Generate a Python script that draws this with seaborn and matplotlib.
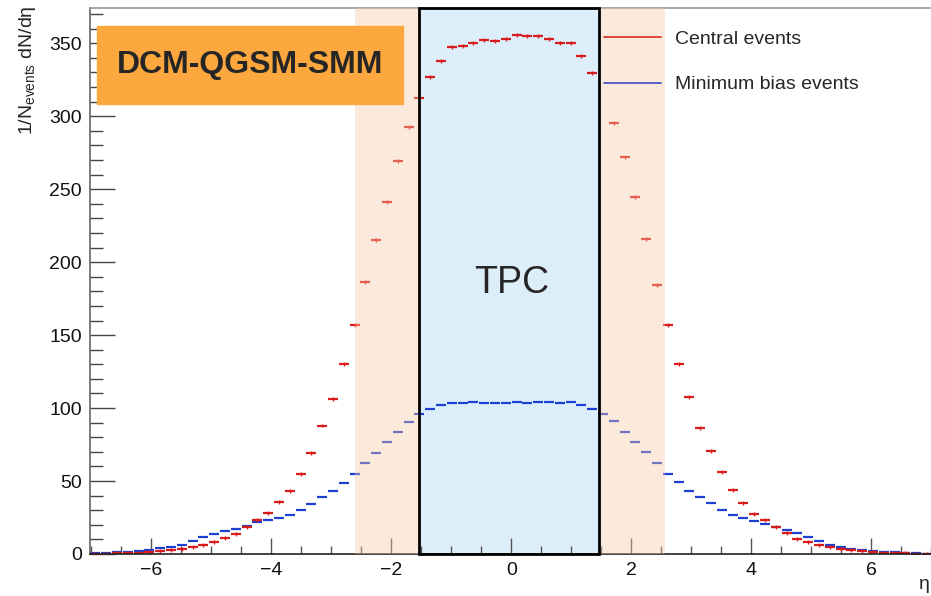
import numpy as np
import pandas as pd
import matplotlib
matplotlib.use("Agg")
import matplotlib.pyplot as plt
from matplotlib.patches import Rectangle
from matplotlib.lines import Line2D
from matplotlib.ticker import MultipleLocator
import seaborn as sns

# ---------------- data ----------------
eta_edges = np.linspace(-7.02, 7.02, 79)          # 78 bins, width 0.18
eta = 0.5 * (eta_edges[:-1] + eta_edges[1:])

central = [0.2, 0.3, 0.5, 0.7, 0.9, 1.4, 2.1, 2.7, 3.6, 4.8,
           6.0, 8.0, 11.2, 13.9, 18.5, 23.3, 28.1, 35.6, 43.4, 55.0,
           69.4, 88.0, 106.2, 130.0, 157.0, 186.4, 215.2, 241.3, 269.4, 292.4,
           312.7, 327.1, 338.1, 347.5, 348.2, 350.4, 352.5, 351.8, 353.2, 355.7,
           355.0, 354.8, 352.8, 350.2, 350.0, 341.5, 329.9, np.nan, 295.4, 271.8,
           244.7, 215.9, 184.4, 157.2, 130.2, 107.4, 86.6, 70.6, 56.4, 44.1,
           34.7, 27.6, 23.3, 18.7, 14.6, 10.3, 8.4, 6.4, 4.8, 3.6,
           2.7, 1.8, 1.1, 0.7, 0.5, 0.5, 0.3, 0.3]

minbias = [0.5, 0.7, 1.1, 1.6, 2.3, 3.0, 3.9, 5.0, 6.4, 9.1,
           11.4, 13.5, 15.6, 17.3, 19.4, 21.7, 23.3, 24.9, 27.0, 30.4,
           34.3, 39.1, 43.4, 48.7, 55.0, 62.4, 69.4, 77.0, 83.8, 90.5,
           96.0, 99.2, 101.9, 103.5, 103.5, 104.4, 103.5, 103.5, 103.5, 104.1,
           103.5, 104.1, 104.1, 103.5, 104.1, 101.9, 99.2, 96.0, 90.9, 83.8,
           77.0, 69.9, 62.4, 55.0, 49.3, 43.4, 39.1, 34.7, 30.4, 27.0,
           24.5, 22.6, 20.3, 18.5, 16.4, 14.2, 11.4, 8.9, 6.4, 4.8,
           3.4, 2.5, 2.1, 1.6, 1.1, 0.7, 0.5, 0.3]

series_labels = ["Central events", "Minimum bias events"]
tpc_range = (-1.53, 1.455)
outer_range = (-2.61, 2.555)
x_ticks = [-6, -4, -2, 0, 2, 4, 6]
y_ticks = [0, 50, 100, 150, 200, 250, 300, 350]

df = pd.DataFrame({
    "eta": np.concatenate([eta, eta]),
    "value": np.concatenate([central, minbias]),
    "series": [series_labels[0]] * len(eta) + [series_labels[1]] * len(eta),
})

# ---------------- style ----------------
sns.set_style("white")
plt.rcParams["font.family"] = ["Liberation Sans", "DejaVu Sans"]
plt.rcParams["mathtext.fontset"] = "custom"
plt.rcParams["mathtext.rm"] = "Liberation Sans"

RED = "#d81c1c"
BLUE = "#1d3fd2"

fig = plt.figure(figsize=(9.31, 5.96), dpi=100)
ax = fig.add_axes([90 / 931, 42 / 596, 842.5 / 931, 546 / 596])

# TPC box (under the points)
ax.axvspan(*tpc_range, color="#ddeefb", zorder=0, lw=0)

# points
sns.scatterplot(data=df[df.series == series_labels[1]], x="eta", y="value",
                marker="_", s=62, linewidth=1.6, color=BLUE, ax=ax,
                legend=False, zorder=2)
sns.scatterplot(data=df[df.series == series_labels[0]], x="eta", y="value",
                marker="_", s=55, linewidth=1.6, color=RED, ax=ax,
                legend=False, zorder=2)
cd = df[df.series == series_labels[0]]
ax.errorbar(cd["eta"], cd["value"], yerr=1.3, fmt="none", ecolor=RED,
            elinewidth=1.0, capsize=0, zorder=2)

# outer (orange) bands overlaid with transparency
ax.axvspan(outer_range[0], tpc_range[0], color="#f5c8a8", alpha=0.4, lw=0, zorder=3)
ax.axvspan(tpc_range[1], outer_range[1], color="#f5c8a8", alpha=0.4, lw=0, zorder=3)

# TPC border
ax.add_patch(Rectangle((tpc_range[0], 0), tpc_range[1] - tpc_range[0], 374.2,
                       fill=False, ec="black", lw=2.0, zorder=5, clip_on=False))
ax.text(0.0, 186, "TPC", fontsize=27, ha="center", va="center", zorder=6)

ax.set_xlim(-7.02, 7.02)
ax.set_ylim(0, 374.2)
ax.set_xticks(x_ticks)
ax.set_yticks(y_ticks)
ax.set_xticklabels(["\u2212" + str(-t) if t < 0 else str(t) for t in x_ticks])
ax.xaxis.set_minor_locator(MultipleLocator(0.5))
ax.yaxis.set_minor_locator(MultipleLocator(10))
ax.tick_params(axis="y", which="major", direction="in", length=18, width=1.0,
               color="#444444", labelsize=14, pad=6, left=True)
ax.tick_params(axis="y", which="minor", direction="in", length=9, width=1.0,
               color="#444444", left=True)
ax.tick_params(axis="x", which="major", direction="in", length=11.5, width=1.0,
               color="#555555", labelsize=14, pad=6, bottom=True)
ax.tick_params(axis="x", which="minor", direction="in", length=5.5, width=1.0,
               color="#555555", bottom=True)
for t in ax.get_xticklabels() + ax.get_yticklabels():
    t.set_color("#111111")

ax.spines["right"].set_visible(False)
ax.spines["top"].set_color("#999999")
ax.spines["left"].set_color("#666666")
ax.spines["bottom"].set_color("#222222")
for s in ax.spines.values():
    s.set_linewidth(1.2)

ax.set_ylabel("1/N$_{\\mathrm{events}}$ dN/d\u03b7", fontsize=14, loc="top")
ax.yaxis.set_label_coords(-0.062, 1.005)
ax.set_xlabel("\u03b7", fontsize=14, loc="right")
ax.xaxis.set_label_coords(0.997, -0.04)

# legend
handles = [Line2D([], [], color="#e0443c", lw=1.4),
           Line2D([], [], color="#5a62c8", lw=1.4)]
ax.legend(handles, series_labels, loc="upper left",
          bbox_to_anchor=(604 / 931, 1 - 30 / 596), bbox_transform=fig.transFigure,
          frameon=False, borderpad=0, borderaxespad=0, fontsize=14,
          handlelength=2.95, handletextpad=0.72, labelspacing=1.45)

# model label box
fig.patches.append(Rectangle((97 / 931, 1 - 104 / 596), 306 / 931, 78 / 596,
                             transform=fig.transFigure, color="#fca83e", zorder=10))
fig.text(250 / 931, 1 - 65 / 596, "DCM-QGSM-SMM", fontsize=23, fontweight="bold",
         ha="center", va="center", zorder=11)

fig.savefig("out.png", dpi=100)
